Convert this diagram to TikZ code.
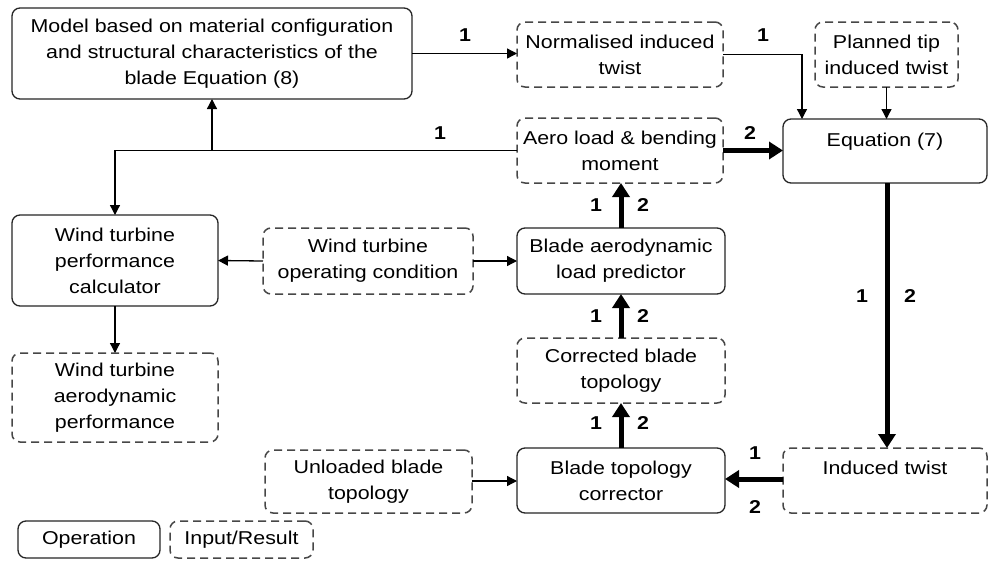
\documentclass[tikz,border=0pt]{standalone}
\usepackage{fontspec}
\setmainfont{Liberation Sans}[FakeStretch=1.15]
\usetikzlibrary{arrows.meta}
\begin{document}
\begin{tikzpicture}[x=1pt,y=-1pt,
  base/.style={rounded corners=8pt, line width=1.3pt, inner sep=0pt, outer sep=0pt,
    align=center, font=\fontsize{18.6}{26}\selectfont},
  op/.style={base, draw=black!85},
  io/.style={base, draw=black!72, line width=1.5pt, dash pattern=on 8pt off 5pt},
  thinarr/.style={line width=1.3pt, -{Triangle[length=10pt,width=10pt]}},
  thickarr/.style={line width=5pt, -{Triangle[length=14pt,width=17pt]}},
  num/.style={font=\fontsize{18.6}{20}\selectfont\bfseries, inner sep=0pt}]
\useasboundingbox (0,0) rectangle (989,563);
\fill[white] (0,0) rectangle (989,563);

% nodes
\node[op, minimum width=400pt, minimum height=91pt] (model) at (212,53.5)
  {Model based on material configuration\\and structural characteristics of the\\blade Equation (8)};
\node[io, minimum width=206pt, minimum height=65pt] (norm) at (620,54.5) {Normalised induced\\twist};
\node[io, minimum width=143pt, minimum height=65pt] (plan) at (886.5,54.5) {Planned tip\\induced twist};
\node[io, minimum width=206pt, minimum height=65pt] (aero) at (620,150.5) {Aero load \& bending\\moment};
\node[op, minimum width=204pt, minimum height=64pt] (eq) at (885,151) {Equation (7)\\[-12pt]\strut};
\node[op, minimum width=206pt, minimum height=91pt] (calc) at (115,260.5) {Wind turbine\\performance\\calculator};
\node[io, minimum width=210pt, minimum height=66pt] (opc) at (368,261) {Wind turbine\\operating condition};
\node[op, minimum width=208pt, minimum height=66pt] (pred) at (621,261) {Blade aerodynamic\\load predictor};
\node[io, minimum width=208pt, minimum height=65pt] (corr) at (621,370.5) {Corrected blade\\topology};
\node[io, minimum width=206pt, minimum height=89pt] (perf) at (115,397.5) {Wind turbine\\aerodynamic\\performance};
\node[op, minimum width=208pt, minimum height=65pt] (btc) at (621,480.5) {Blade topology\\corrector};
\node[io, minimum width=204pt, minimum height=65pt] (ind) at (885,480.5) {Induced twist\\[-8pt]\strut};
\node[io, minimum width=207pt, minimum height=63pt] (unl) at (368.5,481.5) {Unloaded blade\\topology};
\node[op, minimum width=142pt, minimum height=37pt] (leg1) at (89,539.5) {Operation};
\node[io, minimum width=143pt, minimum height=37pt] (leg2) at (241.5,539.5) {Input/Result};

% connectors
\draw[thinarr] (model.east) -- (model.east -| norm.west);
\node[num] (l1) at (465,35) {1};
\draw[thinarr] (norm.east) -| ([xshift=-83pt]eq.north);
\node[num] (l2) at (763,35) {1};
\draw[thinarr] (plan.south) -- (plan.south |- eq.north);
\draw[thickarr] (aero.east) -- (aero.east -| eq.west);
\node[num] (l3) at (750,133) {2};
\draw[thinarr] (aero.west) -| (calc.north);
\coordinate (br) at (model.south |- aero.west);
\draw[thinarr] (br) -- (model.south);
\node[num] (l4) at (440,133) {1};
\draw[thinarr] (opc.west) -- (calc.east);
\draw[thinarr] (opc.east) -- (pred.west);
\draw[thinarr] (calc.south) -- (perf.north);
\draw[thickarr] (pred.north) -- (pred.north |- aero.south);
\node[num] (l5) at (596,205) {1};
\node[num] (l6) at (643,205) {2};
\draw[thickarr] (corr.north) -- (pred.south);
\node[num] (l7) at (596,316) {1};
\node[num] (l8) at (643,316) {2};
\draw[thickarr] (btc.north) -- (corr.south);
\node[num] (l9) at (596,423) {1};
\node[num] (l10) at (643,423) {2};
\draw[thickarr] ([xshift=2pt]eq.south) -- ([xshift=2pt]ind.north);
\node[num] (l11) at (862,296) {1};
\node[num] (l12) at (910,296) {2};
\draw[thickarr] ([yshift=1.5pt]ind.west) -- ([yshift=1.5pt]btc.east);
\node[num] (l13) at (755,453) {1};
\node[num] (l14) at (755,507) {2};
\draw[thinarr] ([yshift=0.5pt]unl.east) -- ([yshift=0.5pt]unl.east -| btc.west);
\end{tikzpicture}
\end{document}
